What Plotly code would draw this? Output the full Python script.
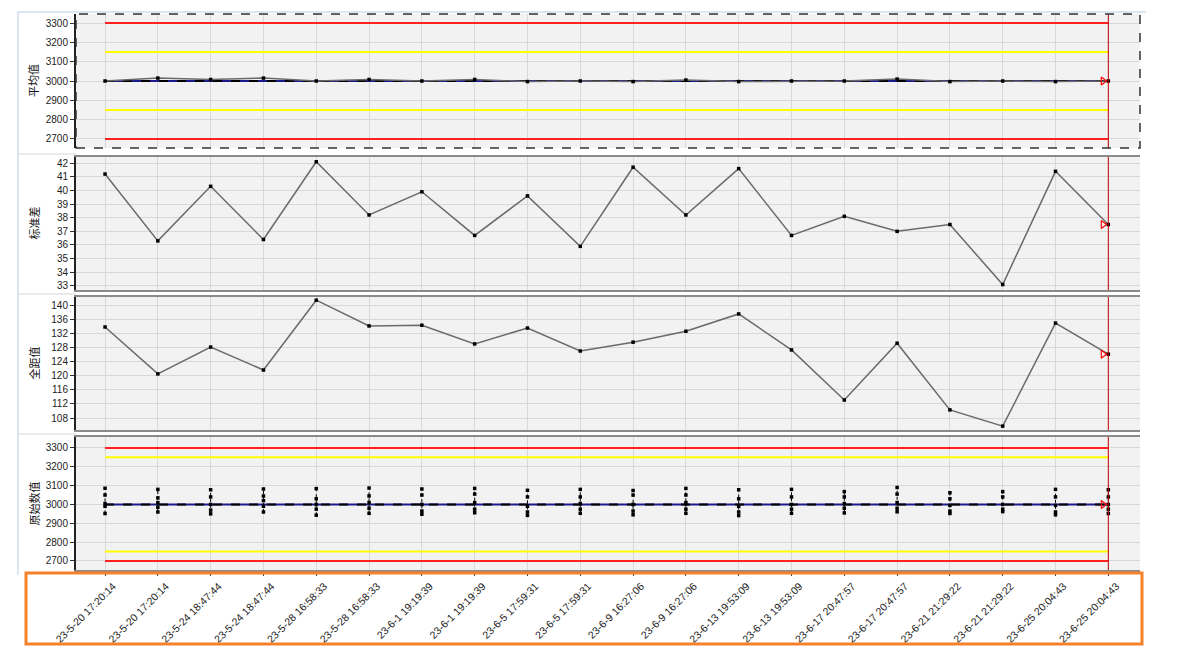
import plotly.graph_objects as go

# ---------------- data ----------------
times = ["23-5-20 17:20:14", "23-5-20 17:20:14", "23-5-24 18:47:44", "23-5-24 18:47:44",
         "23-5-28 16:58:33", "23-5-28 16:58:33", "23-6-1 19:19:39", "23-6-1 19:19:39",
         "23-6-5 17:59:31", "23-6-5 17:59:31", "23-6-9 16:27:06", "23-6-9 16:27:06",
         "23-6-13 19:53:09", "23-6-13 19:53:09", "23-6-17 20:47:57", "23-6-17 20:47:57",
         "23-6-21 21:29:22", "23-6-21 21:29:22", "23-6-25 20:04:43", "23-6-25 20:04:43"]

mean_vals = [3000, 3015, 3008, 3015, 3000, 3008, 3000, 3008, 2997, 3000,
             2997, 3005, 2997, 3000, 3000, 3010, 2997, 3000, 2997, 3000]
std_vals = [41.2, 36.3, 40.3, 36.4, 42.1, 38.2, 39.9, 36.7, 39.6, 35.9,
            41.7, 38.2, 41.6, 36.7, 38.1, 37.0, 37.5, 33.1, 41.4, 37.5]
range_vals = [133.8, 120.5, 128.1, 121.6, 141.4, 134.1, 134.3, 129.0, 133.5, 127.0,
              129.5, 132.6, 137.5, 127.3, 113.1, 129.2, 110.3, 105.7, 134.9, 126.1]
raw_groups = [
    [3086, 3050, 3005, 2990, 2952], [3080, 3035, 3010, 2985, 2960],
    [3078, 3040, 3000, 2970, 2950], [3082, 3045, 3020, 2990, 2960],
    [3084, 3030, 3000, 2975, 2943], [3087, 3045, 3010, 2980, 2953],
    [3082, 3050, 3000, 2965, 2948], [3085, 3055, 3010, 2975, 2956],
    [3075, 3040, 2990, 2960, 2942], [3080, 3040, 3005, 2975, 2953],
    [3074, 3050, 3000, 2965, 2945], [3085, 3050, 3010, 2975, 2953],
    [3078, 3030, 2990, 2960, 2941], [3080, 3040, 3000, 2975, 2953],
    [3068, 3040, 3005, 2980, 2955], [3090, 3055, 3010, 2980, 2961],
    [3062, 3030, 2995, 2965, 2952], [3068, 3040, 3000, 2975, 2962],
    [3080, 3040, 2995, 2960, 2945], [3078, 3040, 3000, 2975, 2952],
]

mean_limits = {"ucl": 3300, "uwl": 3150, "cl": 3000, "lwl": 2850, "lcl": 2700}
raw_limits = {"ucl": 3300, "uwl": 3250, "cl": 3000, "lwl": 2750, "lcl": 2700}

titles = ["平均值", "标准差", "全距值", "原始数值"]
y_ranges = [[2653, 3347], [32.7, 42.45], [104.6, 142.3], [2652, 3358]]
y_dtick = [100, 1, 4, 100]
y_tick0 = [2700, 33, 108, 2700]

# ---------------- layout geometry ----------------
W, H = 1186, 650
x_dom = [76 / W, 1140 / W]
panels_px = [(14, 148), (157, 290), (297, 430), (437, 570)]
y_doms = [[1 - b / H, 1 - t / H] for t, b in panels_px]

n = len(times)
xs = list(range(n))
FONT = "Liberation Sans, Arial, sans-serif"

fig = go.Figure()


def add_line(axis, yv, color, width=2, dash=None):
    fig.add_trace(go.Scatter(x=[xs[0], xs[-1]], y=[yv, yv], mode="lines",
                             line=dict(color=color, width=width, dash=dash),
                             xaxis="x" + axis, yaxis="y" + axis,
                             hoverinfo="skip", showlegend=False))


def add_limits(axis, lim):
    add_line(axis, lim["ucl"], "#ff2020")
    add_line(axis, lim["uwl"], "#ffff00")
    add_line(axis, lim["lwl"], "#ffff00")
    add_line(axis, lim["lcl"], "#ff2020")
    add_line(axis, lim["cl"], "#1a1a8c", 2)
    add_line(axis, lim["cl"], "#000000", 2, "dash")


def add_series(axis, yvals):
    fig.add_trace(go.Scatter(x=xs, y=yvals, mode="lines+markers",
                             line=dict(color="#6a6a6a", width=1.5),
                             marker=dict(color="#000", size=3.5, symbol="square"),
                             xaxis="x" + axis, yaxis="y" + axis, showlegend=False))


def add_flag(axis, yv):
    fig.add_trace(go.Scatter(x=[xs[-1] - 0.1], y=[yv], mode="markers",
                             marker=dict(symbol="triangle-right-open", color="#ff0000",
                                         size=7, line=dict(width=1.2, color="#ff0000")),
                             xaxis="x" + axis, yaxis="y" + axis, showlegend=False,
                             hoverinfo="skip"))


# panel 1: means
add_limits("", mean_limits)
add_series("", mean_vals)
add_flag("", mean_vals[-1])
# panel 2: std
add_series("2", std_vals)
add_flag("2", std_vals[-1])
# panel 3: range
add_series("3", range_vals)
add_flag("3", range_vals[-1])
# panel 4: raw data (vertical stacks per subgroup)
add_limits("4", raw_limits)
rx, ry = [], []
for i, g in enumerate(raw_groups):
    for v in sorted(g):
        rx.append(xs[i])
        ry.append(v)
    rx.append(None)
    ry.append(None)
fig.add_trace(go.Scatter(x=rx, y=ry, mode="lines+markers", connectgaps=False,
                         line=dict(color="#000", width=1, dash="dot"),
                         marker=dict(color="#000", size=3.5, symbol="square"),
                         xaxis="x4", yaxis="y4", showlegend=False))
add_flag("4", raw_groups[-1][2])

layout = dict(width=W, height=H, margin=dict(l=0, r=0, t=0, b=0),
              paper_bgcolor="white", plot_bgcolor="#f2f2f2",
              font=dict(family=FONT, size=10, color="#222"), showlegend=False)

axis_names = ["", "2", "3", "4"]
for k, a in enumerate(axis_names):
    xa = dict(domain=x_dom, range=[-0.55, 19.6], tickvals=xs,
              ticktext=times if k == 3 else [""] * n,
              showgrid=True, gridcolor="#d8d8d8", gridwidth=1, zeroline=False,
              showline=(k != 0), linecolor="#8a8a8a", linewidth=2, mirror=True,
              ticks="outside" if k == 3 else "", ticklen=4, tickcolor="#333",
              tickangle=-45, tickfont=dict(size=10.5, color="#222"),
              anchor="y" + a, automargin=False, fixedrange=True)
    if k == 3:
        xa["ticklabelshift"] = 8
        xa["ticklabelstandoff"] = 0
    ya = dict(domain=y_doms[k], range=y_ranges[k], tick0=y_tick0[k], dtick=y_dtick[k],
              showgrid=True, gridcolor="#d8d8d8", gridwidth=1, zeroline=False,
              showline=True, linecolor="#222", linewidth=2,
              ticks="outside", ticklen=4, tickcolor="#333",
              tickfont=dict(size=10, color="#222"),
              anchor="x" + a, automargin=False, fixedrange=True)
    layout["xaxis" + a] = xa
    layout["yaxis" + a] = ya

shapes = []
annotations = []
for k, a in enumerate(axis_names):
    xr = "x" + a if a else "x"
    yr = ("y" + a if a else "y") + " domain"
    # red vertical marker line at last sample
    shapes.append(dict(type="line", xref=xr, yref=yr, x0=xs[-1], x1=xs[-1], y0=0, y1=1,
                       line=dict(color="#c00000", width=1)))
    t, b = panels_px[k]
    annotations.append(dict(text=titles[k], xref="paper", yref="paper",
                            x=33 / W, y=1 - (t + b) / 2 / H, textangle=-90,
                            xanchor="center", yanchor="middle", showarrow=False,
                            font=dict(size=11, color="#111", family="Noto Sans CJK SC")))
    # light panel separators at left
    if k > 0:
        shapes.append(dict(type="line", xref="paper", yref="paper",
                           x0=18 / W, x1=76 / W, y0=1 - (t - 3) / H, y1=1 - (t - 3) / H,
                           line=dict(color="#d6d6d6", width=1)))

# dashed selection frame around panel 1
shapes.append(dict(type="rect", xref="paper", yref="paper",
                   x0=76 / W, x1=1140 / W, y0=y_doms[0][0], y1=y_doms[0][1],
                   line=dict(color="#333", width=1.5, dash="dash")))
# outer light-blue frame lines
shapes.append(dict(type="line", xref="paper", yref="paper", x0=18 / W, x1=1146 / W,
                   y0=1 - 12 / H, y1=1 - 12 / H, line=dict(color="#b9cde6", width=1)))
shapes.append(dict(type="line", xref="paper", yref="paper", x0=18 / W, x1=18 / W,
                   y0=1 - 12 / H, y1=1 - 575 / H, line=dict(color="#b9cde6", width=1)))
# orange highlight box around x labels
shapes.append(dict(type="rect", xref="paper", yref="paper",
                   x0=26 / W, x1=1142 / W, y0=1 - 644 / H, y1=1 - 573 / H,
                   line=dict(color="#f5822a", width=3)))

layout["shapes"] = shapes
layout["annotations"] = annotations
fig.update_layout(**layout)

fig.write_html("out.html", config={"displayModeBar": False},
               post_script="document.body.style.margin='0';document.body.style.padding='0';")
